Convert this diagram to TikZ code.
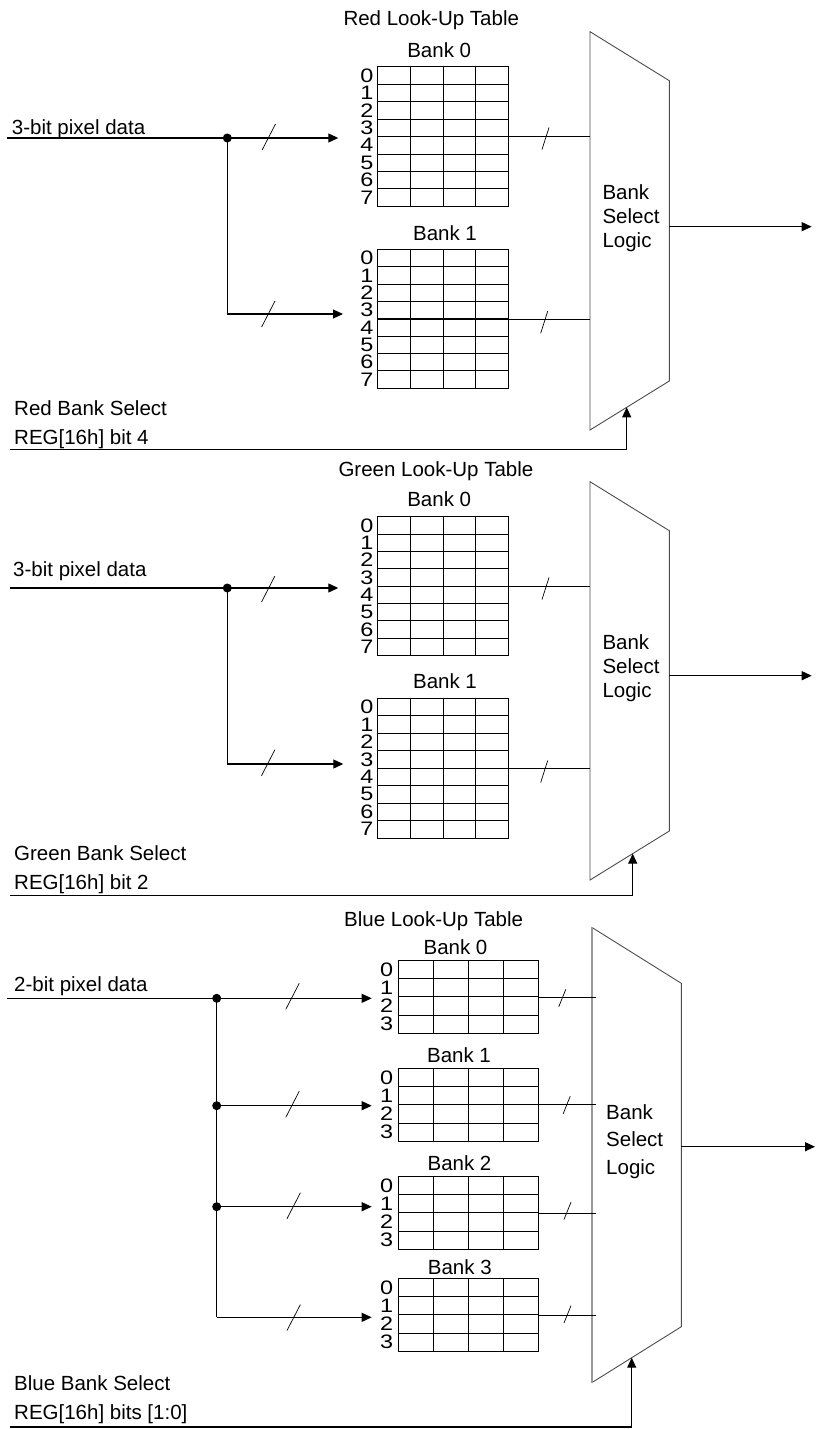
\documentclass[tikz,border=0pt]{standalone}
\usepackage{fontspec}
\usepackage{graphicx}
\setmainfont{Liberation Sans}
\usetikzlibrary{arrows.meta,calc}
\tikzset{
  wire/.style={line width=1.1pt},
  arr/.style={wire,-{Triangle[length=10pt,width=9pt]}},
  slash/.style={line width=0.7pt},
  gridl/.style={line width=0.9pt},
  muxl/.style={draw=black!70,line width=0.9pt},
  lbl/.style={inner sep=0pt,font=\fontsize{20.5}{24}\selectfont},
  digit/.style={inner sep=0pt,font=\fontsize{19.5}{22}\selectfont},
  dotc/.style={circle,fill,inner sep=0pt,minimum size=9pt},
}
\newcommand\drawlut[7]{% name, x0, y0, x1, y1, rows, digit x
  \pgfmathsetmacro\lrh{(#5-#3)/#6}
  \pgfmathsetmacro\lcw{(#4-#2)/4}
  \pgfmathtruncatemacro\lrl{#6-1}
  \draw[gridl] (#2,#3) rectangle (#4,#5);
  \foreach \i in {1,2,3} \draw[gridl] ({#2+\i*\lcw},#3) -- ({#2+\i*\lcw},#5);
  \foreach \j in {1,...,\lrl} \draw[gridl] (#2,{#3+\j*\lrh}) -- (#4,{#3+\j*\lrh});
  \foreach \j in {0,...,\lrl} \node[digit] at (#7,{#3+(\j+0.5)*\lrh}) {\scalebox{1.2}[1]{\j}};
  \path (#2,#3) coordinate (#1-nw) (#4,#5) coordinate (#1-se);
}
\newcommand\bigslash[2]{\draw[slash] ($(#1,#2)+(-6.7,13)$) -- ($(#1,#2)+(6.7,-13)$);}
\newcommand\smallslash[3]{\draw[slash] ($(#1,#2)+(-3.5,#3)$) -- ($(#1,#2)+(3.5,-#3)$);}
\begin{document}
\begin{tikzpicture}[x=1pt,y=-1pt]
\useasboundingbox (0,0) rectangle (815,1429);

%================ RED ================
\node[lbl,anchor=base west] (rtitle) at (343.3,25.7) {Red Look-Up Table};
\node[lbl,anchor=base] (rb0t) at (439.2,57.4) {Bank 0};
\node[lbl,anchor=base] (rb1t) at (445,240) {Bank 1};
\drawlut{rb0}{377.3}{66.7}{508.7}{206.3}{8}{367}
\drawlut{rb1}{377.3}{249.3}{508.7}{388}{8}{367}
\draw[line width=1.8pt] (377.3,318.7) -- (508.7,318.7);

\node[lbl,anchor=base west] (rin) at (11.7,134) {3-bit pixel data};
\coordinate (rinS) at (7.3,138);
\node[dotc] (rdot) at (227.3,138) {};
\coordinate (rb0in) at (338.3,138);
\coordinate (rb1in) at (343,314);
\draw[wire] (rinS) -- (rdot.center);
\draw[arr] (rdot.center) -- (rb0in);
\draw[arr] (rdot.center) |- (rb1in);
\bigslash{268.8}{137}
\bigslash{268.3}{314}

% mux
\coordinate (rm1) at (590,31.7);
\coordinate (rm2) at (669.3,80.7);
\coordinate (rm3) at (669.3,381);
\coordinate (rm4) at (590,430);
\draw[muxl] (rm1) -- (rm2) -- (rm3) -- (rm4) -- cycle;
\node[lbl,anchor=base west] (rlog1) at (602.3,199.3) {Bank};
\node[lbl,anchor=base west] (rlog2) at (602.3,223.3) {Select};
\node[lbl,anchor=base west] (rlog3) at (602.3,247.7) {Logic};

\coordinate (rb0out) at (508.7,136.5);
\coordinate (rb1out) at (508.7,319.3);
\draw[wire] (rb0out) -- (590,136.5);
\draw[wire] (rb1out) -- (590,319.3);
\smallslash{545.5}{138.5}{11}
\smallslash{544.2}{322.2}{11}

\coordinate (rmo) at (669.3,226.7);
\coordinate (rout) at (811.7,226.7);
\draw[arr] (rmo) -- (rout);

\node[lbl,anchor=base west] (rsel1) at (14,415) {Red Bank Select};
\node[lbl,anchor=base west] (rsel2) at (14,444) {REG[16h] bit 4};
\coordinate (rselS) at (10,449.3);
\coordinate (rselT) at (626.7,407.3);
\draw[arr] (rselS) -| (rselT);

%================ GREEN ================
\node[lbl,anchor=base west] (gtitle) at (338.3,476.7) {Green Look-Up Table};
\node[lbl,anchor=base] (gb0t) at (439.2,506.7) {Bank 0};
\node[lbl,anchor=base] (gb1t) at (445,688.7) {Bank 1};
\drawlut{gb0}{377.3}{516.7}{508.7}{655.3}{8}{367}
\drawlut{gb1}{377.3}{698.3}{508.7}{838}{8}{367}

\node[lbl,anchor=base west] (gin) at (13,576) {3-bit pixel data};
\coordinate (ginS) at (10,588);
\node[dotc] (gdot) at (227.3,588) {};
\coordinate (gb0in) at (338.3,588);
\coordinate (gb1in) at (343.3,764);
\draw[wire] (ginS) -- (gdot.center);
\draw[arr] (gdot.center) -- (gb0in);
\draw[arr] (gdot.center) |- (gb1in);
\bigslash{268.2}{589}
\bigslash{268.2}{762.7}

\coordinate (gm1) at (590,481.7);
\coordinate (gm2) at (669.3,530.7);
\coordinate (gm3) at (669.3,831);
\coordinate (gm4) at (590,880);
\draw[muxl] (gm1) -- (gm2) -- (gm3) -- (gm4) -- cycle;
\node[lbl,anchor=base west] (glog1) at (602.3,649.3) {Bank};
\node[lbl,anchor=base west] (glog2) at (602.3,673.3) {Select};
\node[lbl,anchor=base west] (glog3) at (602.3,697.7) {Logic};

\coordinate (gb0out) at (508.7,586.3);
\coordinate (gb1out) at (508.7,768.3);
\draw[wire] (gb0out) -- (590,586.3);
\draw[wire] (gb1out) -- (590,768.3);
\smallslash{545.5}{588.5}{11}
\smallslash{544.2}{771.5}{11}

\coordinate (gmo) at (669.3,675.7);
\coordinate (gout) at (811.7,675.7);
\draw[arr] (gmo) -- (gout);

\node[lbl,anchor=base west] (gsel1) at (14,860.7) {Green Bank Select};
\node[lbl,anchor=base west] (gsel2) at (14,889.3) {REG[16h] bit 2};
\coordinate (gselS) at (10,895.7);
\coordinate (gselT) at (632.7,853.6);
\draw[arr] (gselS) -| (gselT);

%================ BLUE ================
\node[lbl,anchor=base west] (btitle) at (344,926) {Blue Look-Up Table};
\node[lbl,anchor=base] (bb0t) at (455.5,954) {Bank 0};
\node[lbl,anchor=base] (bb1t) at (459,1062.3) {Bank 1};
\node[lbl,anchor=base] (bb2t) at (459.5,1170) {Bank 2};
\node[lbl,anchor=base] (bb3t) at (459.8,1274) {Bank 3};
\drawlut{bb0}{398.3}{960.3}{538.7}{1033.3}{4}{386.7}
\drawlut{bb1}{398.3}{1068.3}{538.7}{1141.3}{4}{386.7}
\drawlut{bb2}{398.3}{1176.3}{538.7}{1249.3}{4}{386.7}
\drawlut{bb3}{398.3}{1278.3}{538.7}{1351.3}{4}{386.7}

\node[lbl,anchor=base west] (bin) at (14,991) {2-bit pixel data};
\coordinate (binS) at (7.3,998.3);
\node[dotc] (bdot0) at (216.7,998.3) {};
\node[dotc] (bdot1) at (216.7,1105.7) {};
\node[dotc] (bdot2) at (216.7,1206.7) {};
\coordinate (bcorner) at (216.7,1317.3);
\coordinate (bb0in) at (371.7,998.3);
\coordinate (bb1in) at (371.7,1105.7);
\coordinate (bb2in) at (371.7,1206.7);
\coordinate (bb3in) at (371.7,1317.3);
\draw[wire] (binS) -- (bdot0.center);
\draw[wire] (bdot0.center) -- (bcorner);
\draw[arr] (bdot0.center) -- (bb0in);
\draw[arr] (bdot1.center) -- (bb1in);
\draw[arr] (bdot2.center) -- (bb2in);
\draw[arr] (bcorner) -- (bb3in);
\bigslash{292.5}{996.3}
\bigslash{292.5}{1104.3}
\bigslash{293.7}{1205.7}
\bigslash{293.7}{1317.5}

\coordinate (bm1) at (591.7,927.3);
\coordinate (bm2) at (681.3,983.3);
\coordinate (bm3) at (681.3,1326.7);
\coordinate (bm4) at (591.7,1382.7);
\draw[muxl] (bm1) -- (bm2) -- (bm3) -- (bm4);
\draw[draw=black!40,line width=1.6pt] (bm4) -- (bm1);
\node[lbl,anchor=base west] (blog1) at (606,1119) {Bank};
\node[lbl,anchor=base west] (blog2) at (606,1146.7) {Select};
\node[lbl,anchor=base west] (blog3) at (606,1174) {Logic};

\coordinate (bb0out) at (538.7,997.5);
\coordinate (bb1out) at (538.7,1104.5);
\coordinate (bb2out) at (538.7,1213.5);
\coordinate (bb3out) at (538.7,1315.5);
\draw[wire] (bb0out) -- (595.7,997.5);
\draw[wire] (bb1out) -- (595.7,1104.5);
\draw[wire] (bb2out) -- (595.7,1213.5);
\draw[wire] (bb3out) -- (595.7,1315.5);
\smallslash{562.3}{998}{8.7}
\smallslash{566.7}{1105}{8.7}
\smallslash{567.5}{1210.8}{8.7}
\smallslash{567.5}{1314.3}{8.7}

\coordinate (bmo) at (681.3,1146.7);
\coordinate (bout) at (815,1146.7);
\draw[arr] (bmo) -- (bout);

\node[lbl,anchor=base west] (bsel1) at (14,1390.7) {Blue Bank Select};
\node[lbl,anchor=base west] (bsel2) at (14,1419.3) {REG[16h] bits [1:0]};
\coordinate (bselS) at (10,1427);
\coordinate (bselT) at (631.7,1357.7);
\draw[arr] (bselS) -| (bselT);
\end{tikzpicture}
\end{document}
